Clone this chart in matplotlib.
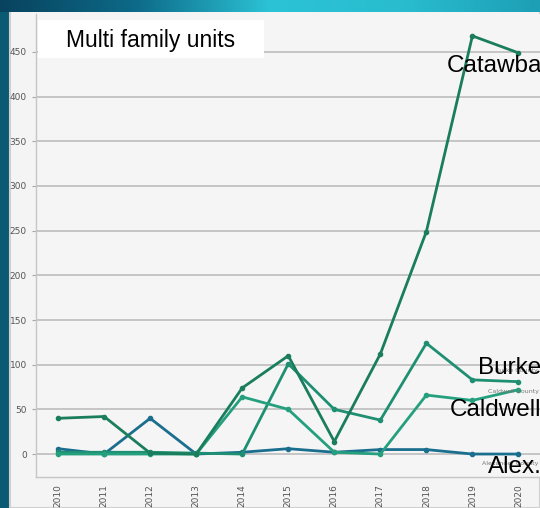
import matplotlib.pyplot as plt
import numpy as np
from matplotlib.patches import Rectangle
from matplotlib.colors import LinearSegmentedColormap

years = [2010, 2011, 2012, 2013, 2014, 2015, 2016, 2017, 2018, 2019, 2020]
catawba = [40, 42, 1, 0, 74, 110, 14, 112, 249, 468, 449]
burke = [2, 2, 2, 1, 0, 101, 50, 38, 124, 83, 81]
caldwell = [0, 0, 0, 0, 64, 50, 2, 0, 66, 60, 72]
alexander = [6, 0, 40, 0, 2, 6, 2, 5, 5, 0, 0]

W, H = 540, 508


def fx(px):
    return px / W


def fy(py):
    return 1 - py / H


fig = plt.figure(figsize=(5.4, 5.08), dpi=100)
fig.patch.set_facecolor("#0b5e78")

# top gradient band
band = fig.add_axes([0, fy(12), 1, 12 / H])
cmap = LinearSegmentedColormap.from_list(
    "band", ["#08435e", "#0d6a88", "#2cc3d6", "#29bccf", "#1d9fb6"])
band.imshow(np.linspace(0, 1, 256)[None, :], aspect="auto", cmap=cmap)
band.axis("off")

# left dark strip + light panel (behind the chart)
fig.patches.append(Rectangle((0, 0), fx(10), 1, transform=fig.transFigure,
                             facecolor="#0a5a74", edgecolor="none", zorder=-2))
fig.patches.append(Rectangle((fx(10), 0), 1 - fx(10), fy(10), transform=fig.transFigure,
                             facecolor="#f4f4f4", edgecolor="#d0d0d0", lw=1.5, zorder=-1))

ax = fig.add_axes([fx(36), fy(477), 1 - fx(36) + 0.001, (477 - 14) / H])
ax.set_facecolor("#f5f5f5")

ax.plot(years, catawba, color="#1a7d5c", lw=2, marker="o", ms=3, zorder=4)
ax.plot(years, burke, color="#1f8f72", lw=2, marker="o", ms=3, zorder=3)
ax.plot(years, caldwell, color="#24a07e", lw=2, marker="o", ms=3, zorder=3)
ax.plot(years, alexander, color="#1a6e8e", lw=2, marker="o", ms=3, zorder=2)

ax.set_xlim(2009.52, 2020.48)
ax.set_ylim(-25.7, 492.5)
ax.set_yticks(range(0, 451, 50))
ax.set_xticks(years)
ax.set_xticklabels([str(y) for y in years], rotation=90)
ax.yaxis.grid(True, color="#bdbdbd", lw=1.2)
ax.set_axisbelow(True)

for s in ["top", "right"]:
    ax.spines[s].set_visible(False)
for s in ["left", "bottom"]:
    ax.spines[s].set_color("#c6c6c6")
    ax.spines[s].set_linewidth(1.0)

ax.tick_params(axis="both", labelsize=6.5, labelcolor="#555555", color="#aaaaaa", length=3)
ax.tick_params(axis="x", length=0, pad=5)

# small county labels
ax.text(2019.33, 70.5, "Caldwell County", fontsize=4.5, color="#777777", va="center", zorder=5)
ax.text(2019.2, -11, "Alexander County", fontsize=4.5, color="#777777", va="center", zorder=5)
ax.text(2019.5, 94, "Burke County", fontsize=4.5, color="#777777", va="center", zorder=5)

# big labels
lab = dict(fontsize=17.5, color="black", family="Liberation Sans", va="center",
           clip_on=False, zorder=6)
ax.text(2018.44, 434, "Catawba", **lab)
ax.text(2019.13, 96, "Burke", **lab)
ax.text(2018.5, 49, "Caldwell", **lab)
ax.text(2019.33, -14.5, "Alex.", **lab)

# title box
fig.patches.append(Rectangle((fx(38), fy(58)), fx(264) - fx(38), (58 - 20) / H,
                             transform=fig.transFigure, facecolor="white",
                             edgecolor="none", zorder=5))
fig.text(fx(66), fy(40), "Multi family units", fontsize=16.5, family="Liberation Sans",
         va="center", ha="left", zorder=6)

fig.savefig("out.png", dpi=100, facecolor=fig.get_facecolor())
